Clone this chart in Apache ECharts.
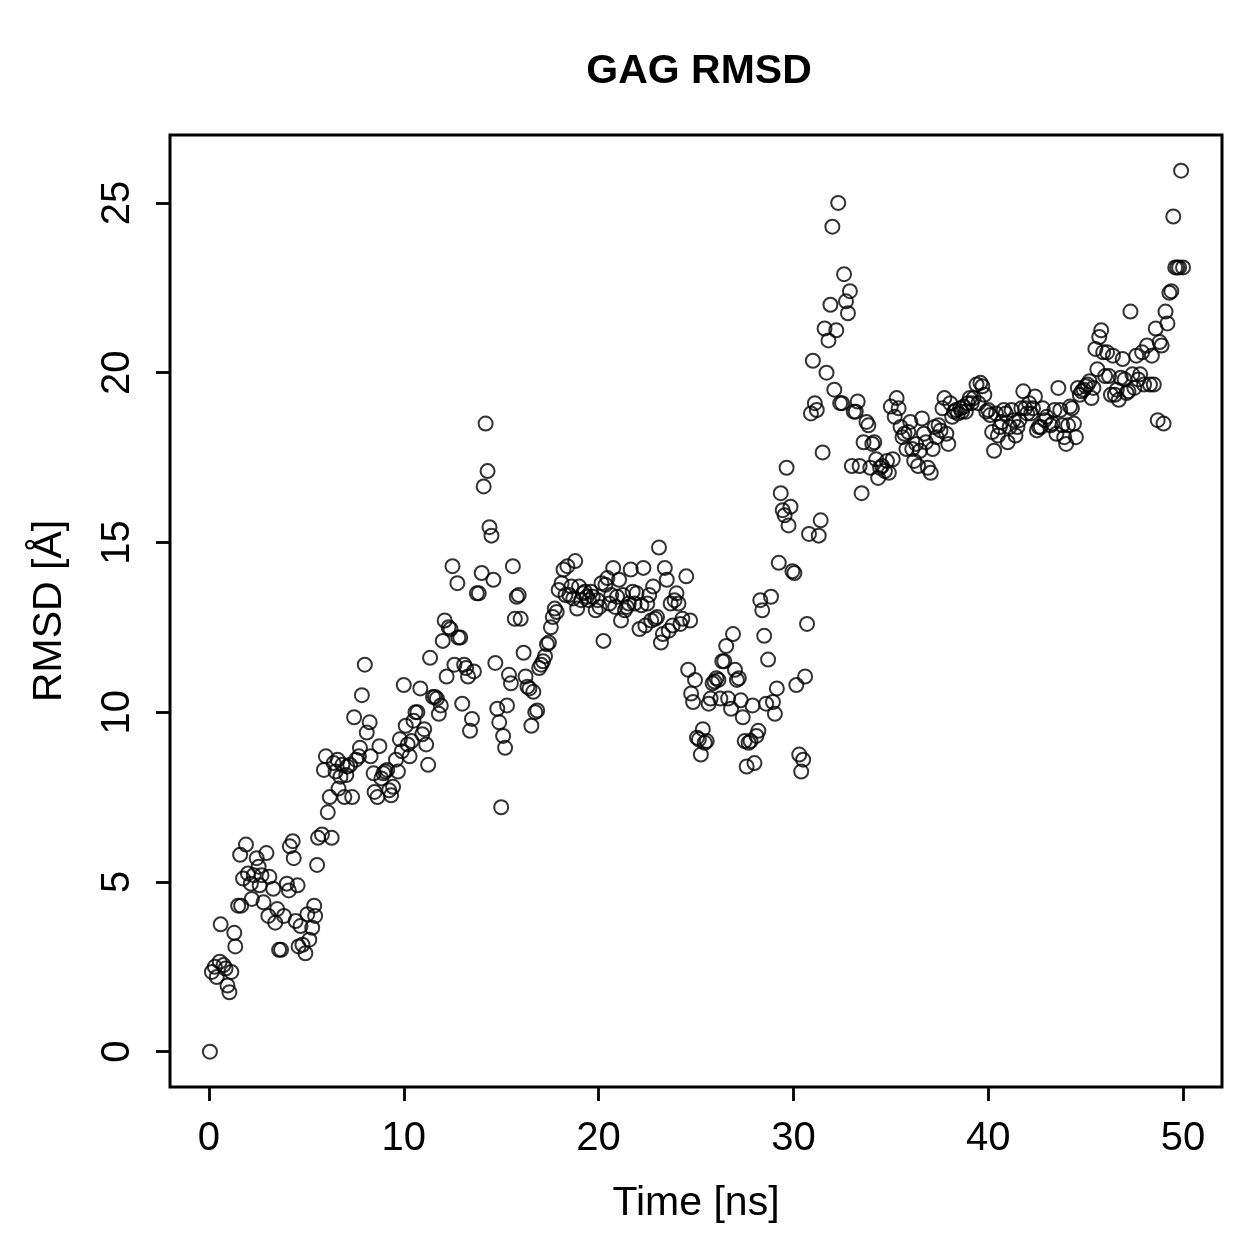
<!DOCTYPE html>
<html>
<head>
<meta charset="utf-8">
<title>GAG RMSD</title>
<script src="https://cdn.jsdelivr.net/npm/echarts@6/dist/echarts.min.js"></script>
<style>
  html, body { margin: 0; padding: 0; background: #fff; }
  #main { width: 1259px; height: 1259px; }
</style>
</head>
<body>
<div id="main"></div>
<script>
// values
const time = [
  0.05, 0.15, 0.3, 0.4, 0.55, 0.6, 0.75, 0.85, 0.95, 1.05, 1.15, 1.3, 1.35, 1.5, 1.6, 1.65, 1.75, 1.9, 2.0, 2.15,
  2.2, 2.3, 2.45, 2.55, 2.6, 2.7, 2.8, 2.95, 3.05, 3.1, 3.3, 3.4, 3.5, 3.6, 3.7, 3.85, 4.0, 4.1, 4.15, 4.3,
  4.35, 4.45, 4.55, 4.6, 4.7, 4.8, 4.95, 5.05, 5.15, 5.3, 5.4, 5.45, 5.55, 5.6, 5.8, 5.9, 6.0, 6.1, 6.2, 6.3,
  6.4, 6.5, 6.6, 6.65, 6.75, 6.85, 6.95, 7.05, 7.1, 7.25, 7.35, 7.45, 7.55, 7.7, 7.75, 7.85, 8.0, 8.1, 8.25, 8.3,
  8.45, 8.5, 8.65, 8.75, 8.85, 8.95, 9.05, 9.15, 9.25, 9.35, 9.45, 9.6, 9.7, 9.8, 9.9, 10.0, 10.1, 10.2, 10.3, 10.4,
  10.5, 10.6, 10.7, 10.85, 10.95, 11.05, 11.15, 11.25, 11.35, 11.5, 11.6, 11.7, 11.8, 11.9, 12.0, 12.1, 12.2, 12.3, 12.4, 12.5,
  12.6, 12.75, 12.8, 12.9, 13.0, 13.1, 13.2, 13.3, 13.4, 13.5, 13.6, 13.75, 13.85, 14.0, 14.1, 14.2, 14.3, 14.4, 14.5, 14.6,
  14.7, 14.8, 14.9, 15.0, 15.1, 15.2, 15.3, 15.4, 15.5, 15.6, 15.7, 15.8, 15.9, 16.0, 16.15, 16.25, 16.35, 16.45, 16.55, 16.65,
  16.75, 16.85, 16.95, 17.05, 17.15, 17.25, 17.35, 17.45, 17.55, 17.65, 17.75, 17.85, 17.95, 18.1, 18.2, 18.3, 18.4, 18.5, 18.6, 18.7,
  18.8, 18.9, 19.0, 19.1, 19.2, 19.3, 19.4, 19.5, 19.6, 19.7, 19.85, 19.95, 20.05, 20.15, 20.25, 20.35, 20.45, 20.55, 20.65, 20.75,
  20.85, 20.95, 21.05, 21.15, 21.25, 21.35, 21.45, 21.55, 21.65, 21.75, 21.85, 21.95, 22.1, 22.2, 22.3, 22.4, 22.5, 22.6, 22.7, 22.8,
  22.9, 23.0, 23.1, 23.2, 23.3, 23.4, 23.5, 23.6, 23.7, 23.8, 23.9, 24.0, 24.1, 24.2, 24.3, 24.5, 24.6, 24.7, 24.75, 24.85,
  24.95, 25.05, 25.15, 25.25, 25.35, 25.45, 25.55, 25.65, 25.75, 25.85, 25.95, 26.05, 26.15, 26.25, 26.35, 26.45, 26.55, 26.65, 26.8, 26.9,
  27.0, 27.1, 27.2, 27.3, 27.4, 27.5, 27.6, 27.7, 27.8, 27.9, 28.0, 28.1, 28.2, 28.3, 28.4, 28.5, 28.6, 28.7, 28.85, 28.95,
  29.05, 29.15, 29.25, 29.35, 29.45, 29.55, 29.65, 29.75, 29.85, 29.95, 30.05, 30.15, 30.3, 30.4, 30.5, 30.6, 30.7, 30.8, 30.9, 31.0,
  31.1, 31.2, 31.3, 31.4, 31.5, 31.6, 31.7, 31.8, 31.9, 32.0, 32.1, 32.2, 32.3, 32.4, 32.5, 32.6, 32.7, 32.8, 32.9, 33.0,
  33.1, 33.2, 33.3, 33.4, 33.5, 33.6, 33.75, 33.85, 33.95, 34.05, 34.15, 34.25, 34.35, 34.45, 34.55, 34.7, 34.8, 34.9, 35.0, 35.1,
  35.2, 35.3, 35.4, 35.5, 35.6, 35.7, 35.8, 35.9, 36.0, 36.1, 36.2, 36.3, 36.4, 36.5, 36.6, 36.7, 36.8, 36.9, 37.05, 37.15,
  37.25, 37.35, 37.45, 37.55, 37.65, 37.75, 37.85, 37.95, 38.05, 38.15, 38.25, 38.35, 38.45, 38.55, 38.65, 38.75, 38.85, 38.95, 39.05, 39.15,
  39.25, 39.4, 39.5, 39.6, 39.7, 39.8, 39.9, 40.0, 40.1, 40.2, 40.3, 40.4, 40.5, 40.6, 40.7, 40.8, 40.9, 41.0, 41.1, 41.2,
  41.3, 41.4, 41.5, 41.6, 41.7, 41.8, 41.9, 42.0, 42.1, 42.2, 42.3, 42.4, 42.5, 42.6, 42.7, 42.8, 42.9, 43.0, 43.2, 43.3,
  43.4, 43.5, 43.6, 43.7, 43.8, 43.9, 44.0, 44.1, 44.2, 44.3, 44.4, 44.5, 44.6, 44.7, 44.8, 44.9, 45.0, 45.1, 45.2, 45.3,
  45.4, 45.5, 45.6, 45.7, 45.8, 45.9, 46.0, 46.1, 46.2, 46.3, 46.4, 46.5, 46.6, 46.7, 46.8, 46.9, 47.0, 47.1, 47.2, 47.3,
  47.4, 47.5, 47.6, 47.7, 47.8, 47.9, 48.0, 48.15, 48.3, 48.4, 48.5, 48.6, 48.7, 48.8, 48.9, 49.0, 49.1, 49.2, 49.3, 49.4,
  49.5, 49.6, 49.7, 49.8, 49.9, 50.0
];
const rmsd = [
  0.0, 2.35, 2.5, 2.2, 2.65, 3.75, 2.55, 2.45, 1.95, 1.75, 2.35, 3.5, 3.1, 4.3, 5.8, 4.3, 5.1, 6.1, 5.25, 4.95,
  4.5, 5.2, 5.7, 5.45, 4.9, 5.2, 4.4, 5.85, 4.0, 5.15, 4.8, 3.8, 4.2, 3.0, 3.0, 4.0, 4.95, 4.75, 6.05, 6.2,
  5.7, 3.85, 4.9, 3.1, 3.7, 3.15, 2.9, 4.05, 3.3, 3.65, 4.3, 4.0, 5.5, 6.3, 6.4, 8.3, 8.7, 7.05, 7.5, 6.3,
  8.5, 8.25, 8.6, 7.75, 8.1, 8.45, 7.5, 8.15, 8.4, 8.45, 7.5, 9.85, 8.6, 8.7, 8.95, 10.5, 11.4, 9.4, 9.7, 8.7,
  8.2, 7.65, 7.5, 9.0, 8.05, 8.2, 8.25, 8.3, 7.7, 7.55, 7.8, 8.6, 8.25, 9.2, 8.85, 10.8, 9.6, 9.05, 8.7, 9.15,
  9.75, 10.0, 10.0, 10.7, 9.35, 9.5, 9.05, 8.45, 11.6, 10.45, 10.45, 10.4, 9.95, 10.2, 12.1, 12.7, 11.05, 12.5, 12.45, 14.3,
  11.4, 13.8, 12.2, 12.2, 10.25, 11.4, 11.3, 11.05, 9.45, 9.8, 11.2, 13.5, 13.5, 14.1, 16.65, 18.5, 17.1, 15.45, 15.2, 13.9,
  11.45, 10.1, 9.7, 7.2, 9.3, 8.95, 10.2, 11.1, 10.85, 14.3, 12.75, 13.4, 13.45, 12.75, 11.75, 11.05, 10.75, 10.7, 9.6, 10.6,
  10.0, 10.05, 11.3, 11.4, 11.5, 11.65, 12.0, 12.05, 12.5, 12.8, 13.05, 12.95, 13.6, 13.8, 14.2, 13.45, 14.3, 13.45, 13.7, 13.35,
  14.45, 13.05, 13.7, 13.3, 13.5, 13.55, 13.4, 13.3, 13.55, 13.4, 13.0, 13.3, 13.1, 13.8, 12.1, 13.75, 13.95, 13.2, 13.45, 14.25,
  13.1, 13.4, 13.9, 12.7, 13.45, 13.0, 13.1, 13.2, 14.2, 13.55, 13.2, 13.5, 12.45, 13.15, 14.25, 12.55, 13.2, 13.45, 12.7, 13.7,
  12.75, 12.8, 14.85, 12.05, 12.3, 14.25, 13.9, 12.4, 13.2, 12.55, 13.3, 13.5, 13.2, 12.6, 12.75, 14.0, 11.25, 12.7, 10.55, 10.3,
  10.95, 9.25, 9.2, 8.75, 9.5, 9.1, 9.15, 10.25, 10.4, 10.85, 10.9, 11.0, 10.95, 10.4, 11.5, 11.5, 11.95, 10.4, 10.1, 12.3,
  11.25, 10.95, 11.0, 10.35, 9.85, 9.15, 8.4, 9.1, 9.15, 10.2, 8.5, 9.3, 9.45, 13.3, 13.0, 12.25, 10.25, 11.55, 13.4, 10.3,
  9.95, 10.7, 14.4, 16.45, 15.95, 15.8, 17.2, 15.5, 16.05, 14.15, 14.1, 10.8, 8.75, 8.25, 8.6, 11.05, 12.6, 15.25, 18.8, 20.35,
  19.1, 18.9, 15.2, 15.65, 17.65, 21.3, 20.0, 20.95, 22.0, 24.3, 19.5, 21.25, 25.0, 19.1, 19.1, 22.9, 22.1, 21.75, 22.4, 17.25,
  18.85, 18.85, 19.15, 17.25, 16.45, 17.95, 18.55, 18.45, 17.2, 17.9, 17.95, 17.45, 16.9, 17.2, 17.25, 17.1, 17.4, 17.05, 19.0, 17.45,
  18.7, 19.25, 18.95, 18.4, 18.1, 18.2, 17.75, 18.25, 18.55, 17.75, 17.4, 17.9, 17.25, 17.7, 18.65, 18.2, 17.95, 17.2, 17.05, 17.75,
  18.4, 18.1, 18.45, 18.3, 18.95, 19.25, 18.2, 17.9, 19.1, 18.7, 18.85, 18.9, 18.8, 18.95, 18.85, 19.0, 18.85, 19.1, 19.25, 19.1,
  19.25, 19.65, 19.1, 19.7, 19.6, 19.35, 18.85, 18.9, 18.75, 18.25, 17.7, 18.8, 18.15, 18.4, 18.55, 18.9, 18.8, 17.95, 18.4, 18.9,
  18.6, 18.15, 18.4, 18.6, 18.95, 19.45, 18.95, 18.8, 19.1, 18.8, 18.95, 19.3, 18.3, 18.4, 18.4, 18.95, 18.6, 18.7, 18.45, 18.5,
  18.9, 18.2, 19.55, 18.9, 18.45, 18.1, 17.9, 18.45, 19.0, 18.95, 18.5, 18.1, 19.55, 19.35, 19.45, 19.5, 19.6, 19.65, 19.75, 19.25,
  19.55, 20.7, 20.1, 21.05, 21.25, 20.6, 19.9, 20.6, 19.9, 19.35, 20.5, 19.35, 19.5, 19.2, 19.85, 20.4, 19.8, 19.4, 19.45, 21.8,
  19.95, 19.55, 20.5, 19.8, 19.95, 20.6, 19.65, 20.8, 19.65, 20.5, 19.65, 21.3, 18.6, 20.9, 20.8, 18.5, 21.8, 21.45, 22.35, 22.4,
  24.6, 23.1, 23.1, 23.1, 25.95, 23.1
];
const xTicks = [0, 10, 20, 30, 40, 50];
const yTicks = [0, 5, 10, 15, 20, 25];

const points = time.map((t, i) => [t, rmsd[i]]);
const font = "'Liberation Sans', Arial, Helvetica, sans-serif";

const chart = echarts.init(document.getElementById("main"), null, { renderer: "canvas" });
chart.setOption({
  animation: false,
  backgroundColor: "#ffffff",
  title: {
    text: "GAG RMSD",
    left: 694,
    top: 46,
    textAlign: "center",
    textStyle: { fontFamily: font, fontWeight: "bold", fontSize: 41, color: "#000" }
  },
  grid: {
    left: 170, right: 37, top: 135, bottom: 172,
    show: true, borderColor: "#000", borderWidth: 3, backgroundColor: "transparent"
  },
  xAxis: {
    type: "value",
    min: -2, max: 52,
    name: "Time [ns]",
    nameLocation: "middle",
    nameGap: 96,
    nameTextStyle: { fontFamily: font, fontSize: 41, color: "#000" },
    axisLine: { show: false, onZero: false },
    axisTick: { show: true, length: 14, lineStyle: { color: "#000", width: 2.8 }, customValues: xTicks },
    axisLabel: { fontFamily: font, fontSize: 40, color: "#000", margin: 32, customValues: xTicks },
    splitLine: { show: false }
  },
  yAxis: {
    type: "value",
    min: -1.04, max: 27.0,
    name: "RMSD [Å]",
    nameLocation: "middle",
    nameGap: 100,
    nameTextStyle: { fontFamily: font, fontSize: 41, color: "#000" },
    axisLine: { show: false, onZero: false },
    axisTick: { show: true, length: 14, lineStyle: { color: "#000", width: 2.8 }, customValues: yTicks },
    axisLabel: { fontFamily: font, fontSize: 40, color: "#000", margin: 32, rotate: 90, customValues: yTicks },
    splitLine: { show: false }
  },
  series: [{
    type: "scatter",
    data: points,
    symbol: "circle",
    symbolSize: 14,
    itemStyle: { color: "rgba(0,0,0,0)", borderColor: "#000", borderWidth: 2 },
    emphasis: { disabled: true }
  }]
});
window.onresize = function() {
  chart.resize();
};
</script>
</body>
</html>
